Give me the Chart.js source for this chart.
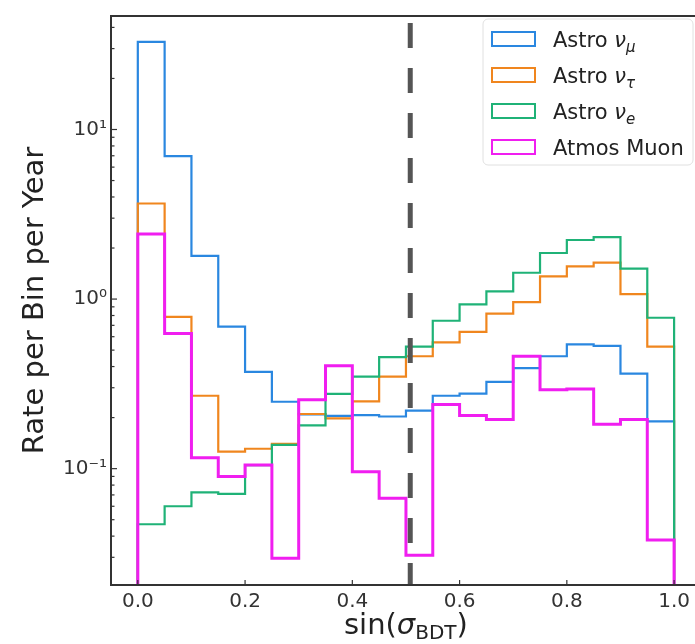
<!DOCTYPE html>
<html><head><meta charset="utf-8">
<script src="https://cdn.jsdelivr.net/npm/chart.js@4.4.1/dist/chart.umd.min.js"></script>
<style>html,body{margin:0;padding:0;background:#fff}</style>
</head><body>
<canvas id="c" width="695" height="644"></canvas>
<script>
// bin edges of sin(sigma_BDT), 20 bins
const binEdges=[0,0.05,0.1,0.15,0.2,0.25,0.3,0.35,0.4,0.45,0.5,0.55,0.6,0.65,0.7,0.75,0.8,0.85,0.9,0.95,1.0]
const seriesLabels=["Astro ν_μ","Astro ν_τ","Astro ν_e","Atmos Muon"]
const astroMu=[32.9,6.97,1.80,0.687,0.372,0.248,0.209,0.205,0.207,0.203,0.220,0.269,0.277,0.325,0.392,0.460,0.541,0.530,0.363,0.190]
const astroTau=[3.66,0.785,0.269,0.126,0.131,0.140,0.21,0.198,0.249,0.349,0.46,0.555,0.64,0.82,0.96,1.36,1.56,1.64,1.07,0.525]
const astroE=[0.047,0.060,0.0725,0.071,0.105,0.138,0.18,0.276,0.349,0.455,0.525,0.745,0.93,1.11,1.43,1.87,2.23,2.32,1.51,0.776]
const atmosMuon=[2.42,0.627,0.116,0.0898,0.105,0.0296,0.255,0.405,0.096,0.067,0.0309,0.239,0.206,0.195,0.46,0.292,0.295,0.183,0.195,0.038]
const colors=["#2a87e0","#f0861e","#1fb277","#f01ef0"]
const xTicks=[0,0.2,0.4,0.6,0.8,1.0]
const yMajor=[0.1,1,10]
const yMinor=[0.03,0.04,0.05,0.06,0.07,0.08,0.09,0.2,0.3,0.4,0.5,0.6,0.7,0.8,0.9,2,3,4,5,6,7,8,9,20,30,40]
const yTickText={0.1:"10⁻¹",1:"10⁰",10:"10¹"}
const bdtCut=0.508
const FLOOR=1e-4
const FONT='"DejaVu Sans"'

function steps(v){
  const pts=[{x:binEdges[0],y:FLOOR}]
  v.forEach((y,i)=>pts.push({x:binEdges[i],y}))
  pts.push({x:binEdges[binEdges.length-1],y:v[v.length-1]})
  pts.push({x:binEdges[binEdges.length-1],y:FLOOR})
  return pts
}

function rich(ctx,label,x,y,size){
  // label with "_" -> last char before it italic, part after it as subscript
  const parts=label.split("_")
  ctx.textBaseline="alphabetic";ctx.textAlign="left"
  if(parts.length<2){ctx.font=size+"px "+FONT;ctx.fillText(label,x,y);return}
  const base=parts[0].slice(0,-1),greek=parts[0].slice(-1)
  ctx.font=size+"px "+FONT;ctx.fillText(base,x,y);x+=ctx.measureText(base).width
  ctx.font="italic "+size+"px "+FONT;ctx.fillText(greek,x,y);x+=ctx.measureText(greek).width
  ctx.font="italic "+Math.round(size*0.7)+"px "+FONT;ctx.fillText(parts[1],x,y+size*0.22)
}

const decor={
  id:"decor",
  afterDatasetsDraw(ch){
    const {ctx,chartArea:a,scales:{x}}=ch
    const px=x.getPixelForValue(bdtCut)
    ctx.save()
    ctx.strokeStyle="#555";ctx.lineWidth=5;ctx.setLineDash([25,20])
    ctx.beginPath();ctx.moveTo(px,a.top+7);ctx.lineTo(px,a.bottom);ctx.stroke()
    ctx.restore()
  },
  afterDraw(ch){
    const {ctx,chartArea:a,scales:{x,y}}=ch
    ctx.save()
    // frame
    ctx.strokeStyle="#333";ctx.lineWidth=2
    ctx.beginPath();ctx.moveTo(ch.width,a.top);ctx.lineTo(a.left,a.top);ctx.lineTo(a.left,a.bottom);ctx.lineTo(ch.width,a.bottom);ctx.stroke()
    // inward ticks
    ctx.lineWidth=1.2
    y.ticks.forEach(t=>{
      const py=y.getPixelForValue(t.value),l=t.major?6:3.5
      ctx.beginPath();ctx.moveTo(a.left,py);ctx.lineTo(a.left+l,py);ctx.stroke()
    })
    x.ticks.forEach(t=>{
      const px=x.getPixelForValue(t.value)
      ctx.beginPath();ctx.moveTo(px,a.bottom);ctx.lineTo(px,a.bottom-5);ctx.stroke()
    })
    // x title
    ctx.fillStyle="#222"
    const s=29
    ctx.font=s+"px "+FONT;const w1=ctx.measureText("sin(").width,w4=ctx.measureText(")").width
    ctx.font="italic "+s+"px "+FONT;const w2=ctx.measureText("σ").width
    ctx.font=Math.round(s*0.7)+"px "+FONT;const w3=ctx.measureText("BDT").width
    let tx=(x.getPixelForValue(0)+x.getPixelForValue(1.0))/2-(w1+w2+w3+w4)/2
    const ty=634
    ctx.textBaseline="alphabetic";ctx.textAlign="left"
    ctx.font=s+"px "+FONT;ctx.fillText("sin(",tx,ty);tx+=w1
    ctx.font="italic "+s+"px "+FONT;ctx.fillText("σ",tx,ty);tx+=w2
    ctx.font=Math.round(s*0.7)+"px "+FONT;ctx.fillText("BDT",tx,ty+5);tx+=w3
    ctx.font=s+"px "+FONT;ctx.fillText(")",tx,ty)
    // legend
    const lx=483,ly=19,lw=210,lh=146
    ctx.fillStyle="rgba(255,255,255,0.85)";ctx.strokeStyle="#e0e0e0";ctx.lineWidth=1
    ctx.beginPath();ctx.roundRect(lx,ly,lw,lh,5);ctx.fill();ctx.stroke()
    seriesLabels.forEach((lab,i)=>{
      const cy=39+i*36
      ctx.strokeStyle=colors[i];ctx.lineWidth=2
      ctx.strokeRect(492,cy-7,43,14)
      ctx.fillStyle="#222"
      rich(ctx,lab,553,cy+8,21)
    })
    ctx.restore()
  }
}

const series=[astroMu,astroTau,astroE,atmosMuon]
new Chart(document.getElementById("c"),{
  type:"line",
  data:{datasets:series.map((v,i)=>({
    label:seriesLabels[i],data:steps(v),borderColor:colors[i],
    borderWidth:i===3?3:2.2,stepped:"before",pointRadius:0,fill:false,
    order:3-i,borderJoinStyle:"miter"
  }))},
  options:{
    responsive:false,animation:false,devicePixelRatio:1,
    layout:{padding:{top:8,right:0,left:0,bottom:0}},
    plugins:{legend:{display:false},tooltip:{enabled:false}},
    scales:{
      x:{type:"linear",min:-0.05,max:1.037,
        afterBuildTicks:s=>{s.ticks=xTicks.map(v=>({value:v}))},
        afterFit:s=>{s.height=59},
        grid:{display:false,drawTicks:false},border:{display:false},
        ticks:{padding:5,color:"#333",font:{size:20,family:"DejaVu Sans"},maxRotation:0,autoSkip:false,
          callback:v=>v.toFixed(1)}},
      y:{type:"logarithmic",min:0.0206,max:46.7,
        afterBuildTicks:s=>{s.ticks=[...yMinor,...yMajor].sort((a,b)=>a-b).map(v=>({value:v,major:yMajor.includes(v)}))},
        afterFit:s=>{s.width=111},
        grid:{display:false,drawTicks:false},border:{display:false},
        ticks:{padding:4,color:"#333",font:{size:20,family:"DejaVu Sans"},autoSkip:false,
          callback:v=>yTickText[v]||""},
        title:{display:true,text:"Rate per Bin per Year",color:"#222",font:{size:29,family:"DejaVu Sans"},padding:{top:18,bottom:0}}}
    }
  },
  plugins:[decor]
})
</script>
</body></html>
